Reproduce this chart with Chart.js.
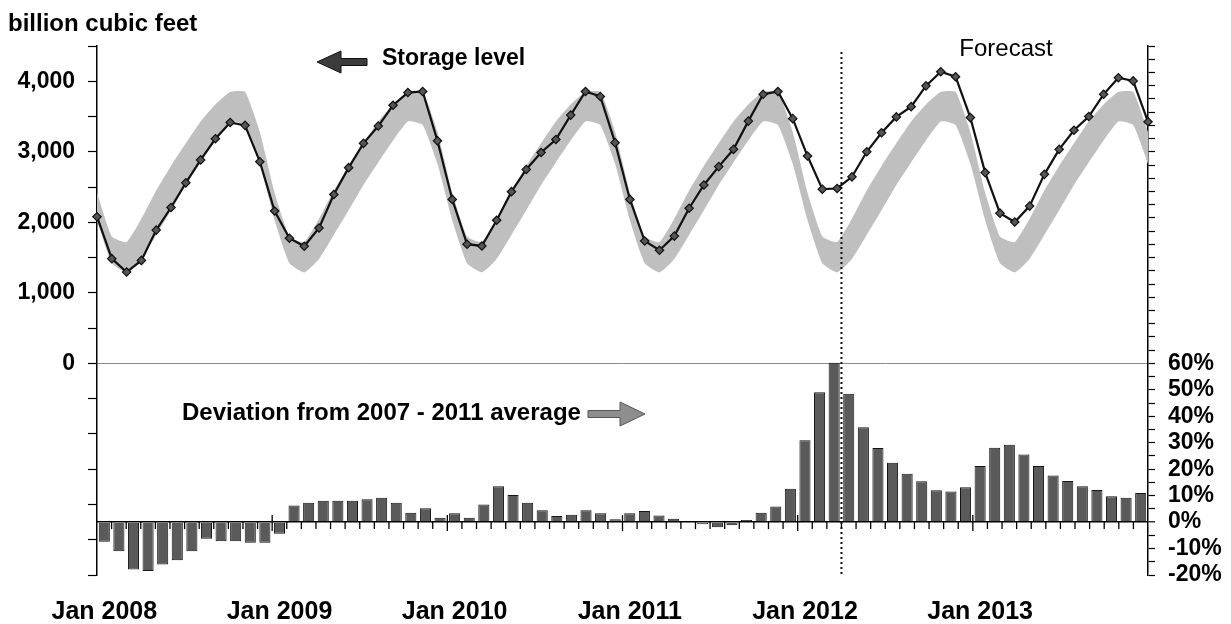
<!DOCTYPE html>
<html><head><meta charset="utf-8">
<script src="https://cdn.jsdelivr.net/npm/chart.js@4/dist/chart.umd.min.js"></script>
<style>html,body{margin:0;padding:0;background:#fff;}#wrap{width:1231px;height:624px;position:relative;}</style>
</head><body><div id="wrap"><canvas id="c" width="1231" height="624"></canvas></div>
<script>
// ---- categories (monthly, Jan 2008 - Dec 2013) ----
const months = [
 'Jan 2008','Feb 2008','Mar 2008','Apr 2008','May 2008','Jun 2008','Jul 2008','Aug 2008','Sep 2008','Oct 2008','Nov 2008','Dec 2008',
 'Jan 2009','Feb 2009','Mar 2009','Apr 2009','May 2009','Jun 2009','Jul 2009','Aug 2009','Sep 2009','Oct 2009','Nov 2009','Dec 2009',
 'Jan 2010','Feb 2010','Mar 2010','Apr 2010','May 2010','Jun 2010','Jul 2010','Aug 2010','Sep 2010','Oct 2010','Nov 2010','Dec 2010',
 'Jan 2011','Feb 2011','Mar 2011','Apr 2011','May 2011','Jun 2011','Jul 2011','Aug 2011','Sep 2011','Oct 2011','Nov 2011','Dec 2011',
 'Jan 2012','Feb 2012','Mar 2012','Apr 2012','May 2012','Jun 2012','Jul 2012','Aug 2012','Sep 2012','Oct 2012','Nov 2012','Dec 2012',
 'Jan 2013','Feb 2013','Mar 2013','Apr 2013','May 2013','Jun 2013','Jul 2013','Aug 2013','Sep 2013','Oct 2013','Nov 2013','Dec 2013'];
const yearTickLabels = ['Jan 2008','Jan 2009','Jan 2010','Jan 2011','Jan 2012','Jan 2013'];
const forecastStart = 'Apr 2012';

// ---- storage level, billion cubic feet ----
const storage = [
 2080,1485,1295,1460,1890,2210,2560,2885,3185,3415,3375,2860,
 2160,1775,1660,1920,2395,2775,3120,3365,3660,3840,3855,3155,
 2325,1690,1665,2030,2435,2750,2990,3175,3520,3855,3785,3130,
 2325,1735,1605,1805,2200,2530,2790,3035,3435,3815,3855,3470,
 2940,2470,2480,2645,3000,3270,3495,3640,3935,4135,4065,3485,
 2705,2130,2005,2230,2680,3035,3305,3500,3815,4050,4005,3425];

// ---- historical range (grey band) ----
const rangeMax = [
 2420,1800,1720,2050,2450,2800,3120,3430,3670,3850,3850,3280,
 2420,1800,1720,2050,2450,2800,3120,3430,3670,3850,3850,3280,
 2420,1800,1720,2050,2450,2800,3120,3430,3670,3850,3850,3280,
 2420,1800,1720,2050,2450,2800,3120,3430,3670,3850,3850,3280,
 2420,1800,1720,2050,2450,2800,3120,3430,3670,3850,3850,3280,
 2420,1800,1720,2050,2450,2800,3120,3430,3670,3850,3850,3280];
const rangeMin = [
 2030,1420,1290,1480,1820,2170,2530,2850,3160,3430,3380,2830,
 2030,1420,1290,1480,1820,2170,2530,2850,3160,3430,3380,2830,
 2030,1420,1290,1480,1820,2170,2530,2850,3160,3430,3380,2830,
 2030,1420,1290,1480,1820,2170,2530,2850,3160,3430,3380,2830,
 2030,1420,1290,1480,1820,2170,2530,2850,3160,3430,3380,2830,
 2030,1420,1290,1480,1820,2170,2530,2850,3160,3430,3380,2830];

// ---- deviation from 2007-2011 average, percent ----
const deviation = [
 -7.4,-11.0,-17.9,-18.5,-16.0,-14.4,-11.0,-6.3,-7.2,-7.2,-7.8,-7.8,
 -4.4,6.3,7.3,8.1,8.1,8.1,8.6,9.2,7.3,3.5,5.2,1.6,
 3.3,1.6,6.7,13.6,10.2,7.3,4.5,2.3,2.8,4.5,3.3,1.1,
 3.3,4.2,2.5,1.3,0.3,-0.8,-1.9,-1.2,0.8,3.5,5.9,12.6,
 30.9,49.1,60.2,48.5,35.9,28.0,22.4,18.3,15.4,12.0,11.6,13.2,
 21.2,28.1,29.2,25.6,21.2,17.6,15.5,13.6,12.1,9.8,9.2,11.0];

// ---- axis tick labels ----
const storageTickLabels = [0,1000,2000,3000,4000];
const deviationTickLabels = [-20,-10,0,10,20,30,40,50,60];

const FONT = '"Liberation Sans", Arial, sans-serif';

const decor = {
  id: 'decor',
  afterDatasetsDraw(chart) {
    const ctx = chart.ctx, x = chart.scales.x, yR = chart.scales.yR, ca = chart.chartArea;
    ctx.save();
    const y0 = yR.getPixelForValue(0);
    ctx.strokeStyle = '#000'; ctx.lineWidth = 1.3;
    for (let i = 1; i < months.length; i++) {
      const bx = (x.getPixelForValue(i - 1) + x.getPixelForValue(i)) / 2;
      ctx.beginPath();
      if (yearTickLabels.includes(months[i])) { ctx.moveTo(bx, y0 - 7); ctx.lineTo(bx, y0 + 9); }
      else { ctx.moveTo(bx, y0); ctx.lineTo(bx, y0 + 7); }
      ctx.stroke();
    }
    const fi = months.indexOf(forecastStart);
    const fx = (x.getPixelForValue(fi - 1) + x.getPixelForValue(fi)) / 2;
    ctx.setLineDash([2, 3]); ctx.lineWidth = 2; ctx.strokeStyle = '#111';
    ctx.beginPath(); ctx.moveTo(fx, ca.top + 6); ctx.lineTo(fx, ca.bottom); ctx.stroke();
    ctx.setLineDash([]);
    ctx.restore();
  },
  afterDraw(chart) {
    const ctx = chart.ctx;
    ctx.save();
    ctx.fillStyle = '#000';
    ctx.textBaseline = 'alphabetic';
    ctx.textAlign = 'left';
    ctx.font = 'bold 24px ' + FONT;
    ctx.fillText('billion cubic feet', 8, 31);
    ctx.fillText('Deviation from 2007 - 2011 average', 182, 420);
    ctx.font = 'bold 23px ' + FONT;
    ctx.fillText('Storage level', 382, 65);
    ctx.font = '24px ' + FONT;
    ctx.textAlign = 'center';
    ctx.fillText('Forecast', 1006, 56);
    // left arrow (storage level)
    ctx.beginPath();
    ctx.moveTo(317, 62); ctx.lineTo(341, 51); ctx.lineTo(341, 58.5); ctx.lineTo(367, 58.5);
    ctx.lineTo(367, 65.5); ctx.lineTo(341, 65.5); ctx.lineTo(341, 73); ctx.closePath();
    ctx.fillStyle = '#3c3c3c'; ctx.fill();
    ctx.strokeStyle = '#111'; ctx.lineWidth = 1; ctx.stroke();
    // right arrow (deviation)
    ctx.beginPath();
    ctx.moveTo(645, 414); ctx.lineTo(620, 402); ctx.lineTo(620, 410.5); ctx.lineTo(588, 410.5);
    ctx.lineTo(588, 417.5); ctx.lineTo(620, 417.5); ctx.lineTo(620, 426); ctx.closePath();
    ctx.fillStyle = '#8e8e8e'; ctx.fill();
    ctx.strokeStyle = '#555'; ctx.lineWidth = 1; ctx.stroke();
    ctx.restore();
  }
};

new Chart(document.getElementById('c'), {
  data: {
    labels: months,
    datasets: [
      { type: 'line', label: 'Storage level', data: storage, xAxisID: 'x2', yAxisID: 'yL', order: 0,
        borderColor: '#111', borderWidth: 2.2, tension: 0, fill: false,
        pointStyle: 'rectRot', pointRadius: 4.2, pointBackgroundColor: '#555', pointBorderColor: '#111', pointBorderWidth: 1.2 },
      { type: 'line', label: 'Range max', data: rangeMax, xAxisID: 'x2', yAxisID: 'yL', order: 2,
        borderWidth: 0, borderColor: 'rgba(0,0,0,0)', pointRadius: 0, tension: 0.15, fill: '+1', backgroundColor: '#bfbfbf' },
      { type: 'line', label: 'Range min', data: rangeMin, xAxisID: 'x2', yAxisID: 'yL', order: 2,
        borderWidth: 0, borderColor: 'rgba(0,0,0,0)', pointRadius: 0, tension: 0.15, fill: false },
      { type: 'bar', label: 'Deviation', data: deviation, xAxisID: 'x', yAxisID: 'yR', order: 1,
        grouped: false,
        backgroundColor: '#5a5a5a', borderColor: '#151515', borderWidth: 1,
        barPercentage: 0.76, categoryPercentage: 1.0 }
    ]
  },
  options: {
    responsive: false, animation: false, devicePixelRatio: 1,
    layout: { autoPadding: false, padding: { left: 17, right: 9, top: 46, bottom: 0 } },
    plugins: { legend: { display: false }, tooltip: { enabled: false } },
    scales: {
      x: { type: 'category', offset: true, position: 'bottom',
        afterFit: s => { s.height = 49; },
        grid: { display: false, drawTicks: false }, border: { display: false },
        ticks: { autoSkip: false, maxRotation: 0, minRotation: 0, padding: 22, color: '#000',
          font: { family: FONT, size: 25, weight: 'bold' },
          callback: (v, i) => yearTickLabels.includes(months[i]) ? months[i] : '' } },
      x2: { type: 'category', offset: false, display: false },
      yL: { type: 'linear', position: 'left', min: -3000, max: 4500,
        afterFit: s => { s.width = 80; },
        border: { color: '#000', width: 1.5 },
        grid: { drawOnChartArea: true, tickLength: 9, tickColor: '#000', tickWidth: 1.2,
          color: c => (c.tick && c.tick.value === 0) ? '#8a8a8a' : 'rgba(0,0,0,0)' },
        ticks: { stepSize: 500, autoSkip: false, padding: 13, color: '#000', font: { family: FONT, size: 23, weight: 'bold' },
          callback: v => storageTickLabels.includes(v) ? v.toLocaleString('en-US') : '' } },
      yR: { type: 'linear', position: 'right', min: -20, max: 180,
        afterFit: s => { s.width = 74; },
        border: { color: '#000', width: 1.5 },
        grid: { drawOnChartArea: true, tickLength: 7, tickColor: '#000', tickWidth: 1.2,
          lineWidth: c => (c.tick && c.tick.value === 0) ? 1.6 : 1,
          color: c => (c.tick && c.tick.value === 0) ? '#000' : 'rgba(0,0,0,0)' },
        ticks: { stepSize: 5, autoSkip: false, padding: 13, color: '#000', font: { family: FONT, size: 23, weight: 'bold' },
          callback: v => deviationTickLabels.includes(v) ? v + '%' : '' } }
    }
  },
  plugins: [decor]
});
</script></body></html>
